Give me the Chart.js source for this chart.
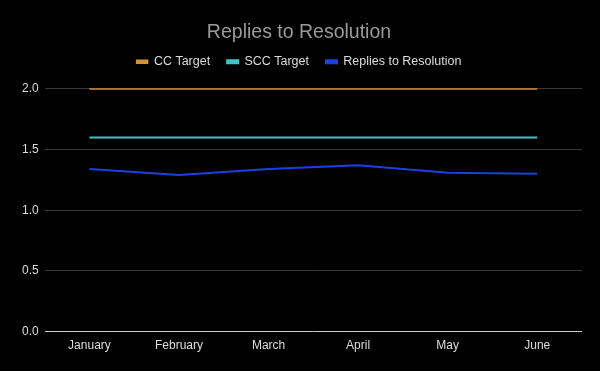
<!DOCTYPE html>
<html>
<head>
<meta charset="utf-8">
<script src="https://cdn.jsdelivr.net/npm/chart.js@4"></script>
<style>
  html, body { margin: 0; padding: 0; background: #000; }
  #wrap { width: 600px; height: 371px; }
</style>
</head>
<body>
<div id="wrap"><canvas id="chart" width="600" height="371"></canvas></div>
<script>
const MONTHS = ['January', 'February', 'March', 'April', 'May', 'June'];
const CC_TARGET = [2.0, 2.0, 2.0, 2.0, 2.0, 2.0];
const SCC_TARGET = [1.6, 1.6, 1.6, 1.6, 1.6, 1.6];
const REPLIES = [1.34, 1.29, 1.34, 1.37, 1.31, 1.30];

const FONT = '"Liberation Sans", Arial, sans-serif';

function line(label, data, color, width) {
  return {
    label,
    data,
    borderColor: color,
    backgroundColor: color,
    borderWidth: width,
    pointRadius: 0,
    tension: 0,
    clip: 4,
  };
}

// a bit more room between the legend and the plot
const LegendEl = Chart.Legend._element;
const origFit = LegendEl.prototype.fit;
LegendEl.prototype.fit = function () {
  origFit.call(this);
  this.height += 11;
};

new Chart(document.getElementById('chart'), {
  type: 'line',
  data: {
    labels: MONTHS,
    datasets: [
      line('CC Target', CC_TARGET, '#d2913a', 1.5),
      line('SCC Target', SCC_TARGET, '#3cc4c8', 2),
      line('Replies to Resolution', REPLIES, '#1c40e0', 2),
    ],
  },
  options: {
    responsive: false,
    animation: false,
    layout: { padding: { left: 16, right: 18, top: 9, bottom: 11 } },
    plugins: {
      title: {
        display: true,
        text: 'Replies to Resolution',
        color: '#9a9a9a',
        font: { family: FONT, size: 19.5, weight: 'normal' },
        padding: { top: 12, bottom: -6 },
      },
      legend: {
        labels: {
          color: '#dcdcdc',
          font: { family: FONT, size: 12.5 },
          boxWidth: 11,
          boxHeight: 3,
          padding: 17,
        },
      },
      tooltip: { enabled: false },
    },
    scales: {
      x: {
        offset: true,
        grid: { display: false, drawTicks: false },
        border: { display: false },
        ticks: { color: '#dcdcdc', font: { family: FONT, size: 12 }, padding: 7 },
      },
      y: {
        min: 0,
        max: 2,
        ticks: {
          stepSize: 0.5,
          color: '#dcdcdc',
          font: { family: FONT, size: 12 },
          padding: 6,
          callback: (v) => v.toFixed(1),
        },
        grid: {
          color: (ctx) => (ctx.tick && ctx.tick.value === 0 ? '#cfcfcf' : '#3a3a3a'),
          lineWidth: 1,
          drawTicks: false,
        },
        border: { display: false },
      },
    },
  },
});
</script>
</body>
</html>
